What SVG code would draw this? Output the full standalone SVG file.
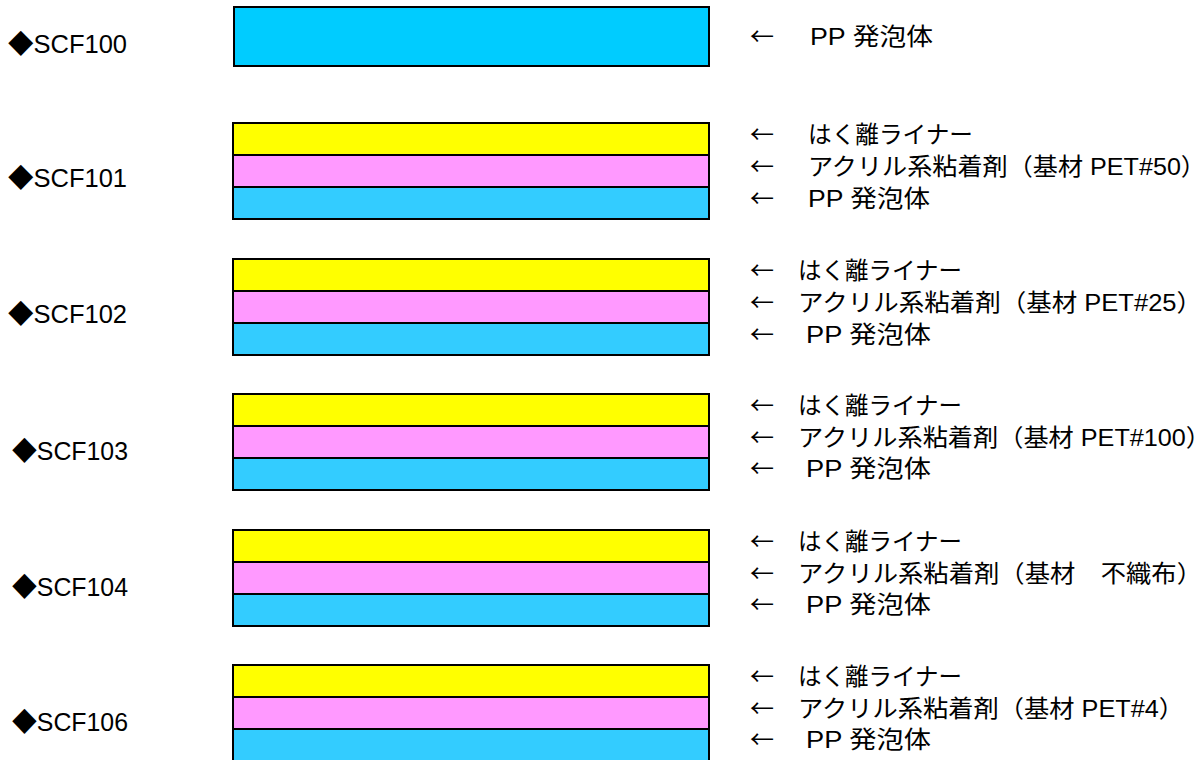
<svg xmlns="http://www.w3.org/2000/svg" width="1202" height="760" viewBox="0 0 1202 760">
<style>
text{font-family:"Liberation Sans","Noto Sans CJK JP",sans-serif;font-size:24px;fill:#000}
.lbl{font-size:26px}
.ar{font-family:"Noto Sans CJK JP",sans-serif}
.y{fill:#FFFF00;stroke:#000;stroke-width:2}
.p{fill:#FF99FF;stroke:#000;stroke-width:2}
.b{fill:#33CCFF;stroke:#000;stroke-width:2}
.b0{fill:#00CCFF;stroke:#000;stroke-width:2}
</style>
<rect width="1202" height="760" fill="#fff"/>
<g id="scf100">
<text class="lbl" x="8" y="53" textLength="119" lengthAdjust="spacingAndGlyphs">◆SCF100</text>
<rect class="b0" x="234" y="7" width="475" height="59"/>
<text class="ar" x="750" y="45">←</text><text x="810" y="45" textLength="123" lengthAdjust="spacingAndGlyphs">PP 発泡体</text>
</g>
<g id="scf101">
<text class="lbl" x="8" y="187" textLength="119" lengthAdjust="spacingAndGlyphs">◆SCF101</text>
<rect class="y" x="233" y="123" width="476" height="32"/>
<rect class="p" x="233" y="155" width="476" height="32"/>
<rect class="b" x="233" y="187" width="476" height="32"/>
<text class="ar" x="750" y="143">←</text><text x="808" y="143" textLength="165" lengthAdjust="spacingAndGlyphs">はく離ライナー</text>
<text class="ar" x="750" y="175">←</text><text x="808" y="175" textLength="398" lengthAdjust="spacingAndGlyphs">アクリル系粘着剤（基材 PET#50）</text>
<text class="ar" x="750" y="207">←</text><text x="808" y="207" textLength="122" lengthAdjust="spacingAndGlyphs">PP 発泡体</text>
</g>
<g id="scf102">
<text class="lbl" x="8" y="323" textLength="119" lengthAdjust="spacingAndGlyphs">◆SCF102</text>
<rect class="y" x="233" y="259" width="476" height="32"/>
<rect class="p" x="233" y="291" width="476" height="32"/>
<rect class="b" x="233" y="323" width="476" height="32"/>
<text class="ar" x="750" y="279">←</text><text x="798" y="279" textLength="164" lengthAdjust="spacingAndGlyphs">はく離ライナー</text>
<text class="ar" x="750" y="311">←</text><text x="798" y="311" textLength="404" lengthAdjust="spacingAndGlyphs">アクリル系粘着剤（基材 PET#25）</text>
<text class="ar" x="750" y="343">←</text><text x="806" y="343" textLength="125" lengthAdjust="spacingAndGlyphs">PP 発泡体</text>
</g>
<g id="scf103">
<text class="lbl" x="12" y="460" textLength="116" lengthAdjust="spacingAndGlyphs">◆SCF103</text>
<rect class="y" x="233" y="394" width="476" height="32"/>
<rect class="p" x="233" y="426" width="476" height="32"/>
<rect class="b" x="233" y="458" width="476" height="32"/>
<text class="ar" x="750" y="414">←</text><text x="798" y="414" textLength="164" lengthAdjust="spacingAndGlyphs">はく離ライナー</text>
<text class="ar" x="750" y="446">←</text><text x="798" y="446" textLength="413" lengthAdjust="spacingAndGlyphs">アクリル系粘着剤（基材 PET#100）</text>
<text class="ar" x="750" y="477">←</text><text x="806" y="477" textLength="125" lengthAdjust="spacingAndGlyphs">PP 発泡体</text>
</g>
<g id="scf104">
<text class="lbl" x="12" y="596" textLength="116" lengthAdjust="spacingAndGlyphs">◆SCF104</text>
<rect class="y" x="233" y="530" width="476" height="32"/>
<rect class="p" x="233" y="562" width="476" height="32"/>
<rect class="b" x="233" y="594" width="476" height="32"/>
<text class="ar" x="750" y="550">←</text><text x="798" y="550" textLength="164" lengthAdjust="spacingAndGlyphs">はく離ライナー</text>
<text class="ar" x="750" y="582">←</text><text x="798" y="582" textLength="404" lengthAdjust="spacingAndGlyphs">アクリル系粘着剤（基材　不織布）</text>
<text class="ar" x="750" y="613">←</text><text x="806" y="613" textLength="125" lengthAdjust="spacingAndGlyphs">PP 発泡体</text>
</g>
<g id="scf106">
<text class="lbl" x="12" y="731" textLength="116" lengthAdjust="spacingAndGlyphs">◆SCF106</text>
<rect class="y" x="233" y="665" width="476" height="32"/>
<rect class="p" x="233" y="697" width="476" height="32"/>
<rect class="b" x="233" y="729" width="476" height="34"/>
<text class="ar" x="750" y="685">←</text><text x="798" y="685" textLength="164" lengthAdjust="spacingAndGlyphs">はく離ライナー</text>
<text class="ar" x="750" y="717">←</text><text x="798" y="717" textLength="386" lengthAdjust="spacingAndGlyphs">アクリル系粘着剤（基材 PET#4）</text>
<text class="ar" x="750" y="748">←</text><text x="806" y="748" textLength="125" lengthAdjust="spacingAndGlyphs">PP 発泡体</text>
</g>
<g id="connectors"></g>
</svg>
